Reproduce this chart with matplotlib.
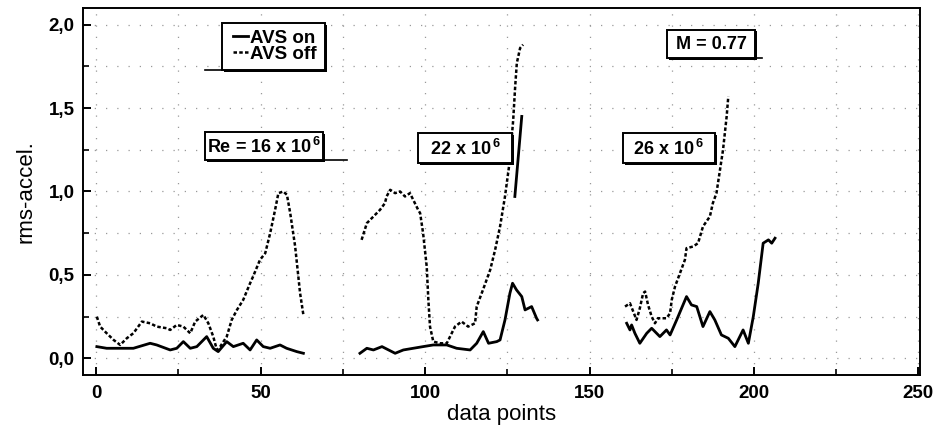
import matplotlib
matplotlib.use("Agg")
import matplotlib.pyplot as plt
from matplotlib.patches import Rectangle
from matplotlib import patheffects as pe
from matplotlib.ticker import MultipleLocator, FuncFormatter

plt.rcParams["font.family"] = ["Liberation Sans", "DejaVu Sans"]
plt.rcParams["mathtext.fontset"] = "custom"
plt.rcParams["mathtext.rm"] = "Liberation Sans"
plt.rcParams["mathtext.bf"] = "Liberation Sans:bold"

# ---- data ----
x16_off = [0.2, 1.2, 3.2, 5.3, 7.3, 9.3, 11.3, 13.9, 16.4, 18.4, 21.5, 22.5, 24.5, 26.5, 28.6, 30.1,
           32.6, 34.1, 35.6, 36.7, 37.7, 39.7, 41.2, 42.8, 44.7, 46.8, 47.7, 49.8, 51.4, 52.9, 54.4,
           55.4, 56.9, 58.0, 59.0, 60.5, 62.0, 63.0]
y16_off = [0.25, 0.19, 0.15, 0.11, 0.08, 0.12, 0.15, 0.22, 0.21, 0.19, 0.18, 0.17, 0.20, 0.19, 0.15, 0.22,
           0.26, 0.21, 0.13, 0.05, 0.07, 0.13, 0.23, 0.29, 0.35, 0.45, 0.49, 0.59, 0.63, 0.75, 0.89,
           0.99, 1.00, 0.98, 0.87, 0.67, 0.39, 0.26]
x16_on = [0.2, 3.2, 7.3, 11.3, 16.4, 18.4, 22.5, 24.5, 26.5, 28.6, 30.6, 33.6, 35.6, 37.1, 39.7, 41.7,
          44.7, 46.8, 48.8, 50.8, 52.9, 55.9, 57.9, 61.0, 63.0]
y16_on = [0.07, 0.06, 0.06, 0.06, 0.09, 0.08, 0.05, 0.06, 0.10, 0.06, 0.07, 0.13, 0.06, 0.04, 0.10, 0.07,
          0.09, 0.05, 0.11, 0.07, 0.06, 0.08, 0.06, 0.04, 0.03]

x22_off = [80.7, 82.3, 84.3, 86.3, 87.8, 88.3, 89.4, 90.9, 92.4, 93.9, 95.4, 96.4, 97.9, 98.5, 99.4,
           100.5, 101.0, 101.5, 102.5, 104.6, 106.6, 107.6, 109.1, 111.1, 113.1, 115.2, 115.7, 117.6,
           119.8, 121.3, 122.8, 124.3, 125.8, 126.8, 127.4, 127.9, 128.9, 129.8]
y22_off = [0.71, 0.81, 0.85, 0.89, 0.93, 0.97, 1.01, 0.99, 1.00, 0.97, 0.99, 0.95, 0.89, 0.87, 0.75,
           0.55, 0.35, 0.19, 0.10, 0.09, 0.09, 0.13, 0.19, 0.22, 0.19, 0.21, 0.31, 0.41,
           0.53, 0.65, 0.79, 0.97, 1.19, 1.43, 1.63, 1.77, 1.86, 1.88]
x22_on = [80.2, 82.3, 84.3, 86.9, 88.9, 90.9, 93.4, 96.4, 99.4, 102.5, 106.6, 109.6, 113.7, 115.7,
          117.7, 119.3, 121.8, 122.8, 124.3, 125.8, 126.6, 127.8, 129.4, 130.4, 132.4, 133.9, 134.2]
y22_on = [0.03, 0.06, 0.05, 0.07, 0.05, 0.03, 0.05, 0.06, 0.07, 0.08, 0.08, 0.06, 0.05, 0.09,
          0.16, 0.09, 0.10, 0.11, 0.23, 0.39, 0.45, 0.41, 0.37, 0.29, 0.31, 0.24, 0.23]
x22_on_jump = [127.3, 129.4]
y22_on_jump = [0.97, 1.45]

x26_off = [160.8, 162.3, 163.3, 164.3, 165.3, 166.3, 166.9, 167.8, 168.9, 169.9, 170.8, 173.4, 174.5,
           175.0, 176.0, 177.5, 179.0, 179.5, 181.5, 183.0, 184.5, 186.6, 187.5, 188.6, 190.6, 191.7, 192.2]
y26_off = [0.31, 0.33, 0.28, 0.23, 0.30, 0.39, 0.40, 0.32, 0.25, 0.21, 0.24, 0.24, 0.27,
           0.35, 0.43, 0.51, 0.59, 0.66, 0.67, 0.69, 0.79, 0.85, 0.93, 0.99, 1.25, 1.45, 1.57]
x26_on = [161.3, 162.3, 162.8, 163.8, 165.3, 167.4, 168.9, 170.4, 171.4, 173.4, 174.5, 176.5, 179.5,
          181.0, 182.6, 184.5, 186.6, 188.1, 190.1, 192.2, 194.2, 196.7, 198.3, 199.8, 201.3, 202.8,
          204.4, 205.4, 206.4]
y26_on = [0.21, 0.17, 0.20, 0.15, 0.09, 0.15, 0.18, 0.15, 0.13, 0.17, 0.14, 0.23, 0.37,
          0.32, 0.31, 0.19, 0.28, 0.23, 0.14, 0.12, 0.07, 0.17, 0.09, 0.25, 0.45, 0.69,
          0.71, 0.69, 0.72]

legend_labels = ["AVS on", "AVS off"]
box_labels = ["Re = 16 x 10$^{\\,\\mathbf{6}}$", "22 x 10$^{\\,\\mathbf{6}}$", "26 x 10$^{\\,\\mathbf{6}}$",
              "M = 0.77"]
xlabel = "data points"
ylabel = "rms-accel."

# ---- figure ----
fig = plt.figure(figsize=(9.35, 4.34), dpi=100)
ax = fig.add_axes([0.0888, 0.136, 0.8952, 0.8456])

on_kw = dict(color="black", lw=2.0, solid_joinstyle="round", zorder=3)
off_kw = dict(color="black", lw=1.8, linestyle=(0, (1.4, 0.9)), zorder=3)

l_on, = ax.plot(x16_on, y16_on, label=legend_labels[0], **on_kw)
l_off, = ax.plot(x16_off, y16_off, label=legend_labels[1], **off_kw)
ax.plot(x22_on, y22_on, **on_kw)
ax.plot(x22_on_jump, y22_on_jump, **on_kw)
ax.plot(x22_off, y22_off, **off_kw)
ax.plot(x26_on, y26_on, **on_kw)
ax.plot(x26_off, y26_off, **off_kw)

ax.set_xlim(-4, 250.5)
ax.set_ylim(-0.1, 2.1)
ax.xaxis.set_major_locator(MultipleLocator(50))
ax.xaxis.set_minor_locator(MultipleLocator(25))
ax.yaxis.set_major_locator(MultipleLocator(0.5))
ax.yaxis.set_minor_locator(MultipleLocator(0.25))
ax.yaxis.set_major_formatter(FuncFormatter(lambda v, p: f"{v:.1f}".replace(".", ",")))

ax.grid(True, which="both", color="#999999", linestyle=(0, (1, 8)), lw=0.9, zorder=0)
ax.set_axisbelow(True)

for s in ax.spines.values():
    s.set_linewidth(1.4)
ax.tick_params(which="major", direction="in", length=6, width=1.4, labelsize=13.5, pad=7)
ax.tick_params(which="minor", direction="in", length=4, width=1.2)
ax.tick_params(axis="y", pad=6)
for t in ax.get_xticklabels() + ax.get_yticklabels():
    t.set_fontweight("bold")

ax.set_xlabel(xlabel, fontsize=16, labelpad=2)
ax.set_ylabel(ylabel, fontsize=16, labelpad=9)


def frame_box(x0, y0, x1, y1):
    r = Rectangle((x0, y0), x1 - x0, y1 - y0, facecolor="white", edgecolor="black",
                  lw=1.4, zorder=5)
    r.set_path_effects([pe.SimplePatchShadow(offset=(1.3, -1.3), shadow_rgbFace="black", alpha=1.0),
                        pe.Normal()])
    ax.add_patch(r)


# legend box
frame_box(38.3, 1.73, 69.6, 2.01)
ax.plot([33.1, 38.3], [1.73, 1.73], color="black", lw=1.2, zorder=5)
leg = ax.legend(handles=[l_on, l_off], loc="center", bbox_to_anchor=(54.3, 1.87),
                bbox_transform=ax.transData, frameon=False, prop=dict(size=13.5, weight="bold"),
                handlelength=0.8, handletextpad=0.1, labelspacing=-0.05, borderpad=0.1)
leg.set_zorder(6)

boxes = [(33.1, 1.19, 69.0, 1.357), (97.9, 1.17, 126.4, 1.35), (160.2, 1.17, 188.1, 1.35),
         (173.6, 1.80, 200.3, 1.97)]
for (x0, y0, x1, y1), lab in zip(boxes, box_labels):
    frame_box(x0, y0, x1, y1)
    ax.text((x0 + x1) / 2, (y0 + y1) / 2 - 0.005, lab, ha="center", va="center", fontsize=13,
            fontweight="bold", zorder=6)
ax.plot([69.0, 76.3], [1.19, 1.19], color="black", lw=1.2, zorder=5)
ax.plot([200.3, 202.4], [1.80, 1.80], color="black", lw=1.2, zorder=5)

fig.savefig("out.png", dpi=100)
